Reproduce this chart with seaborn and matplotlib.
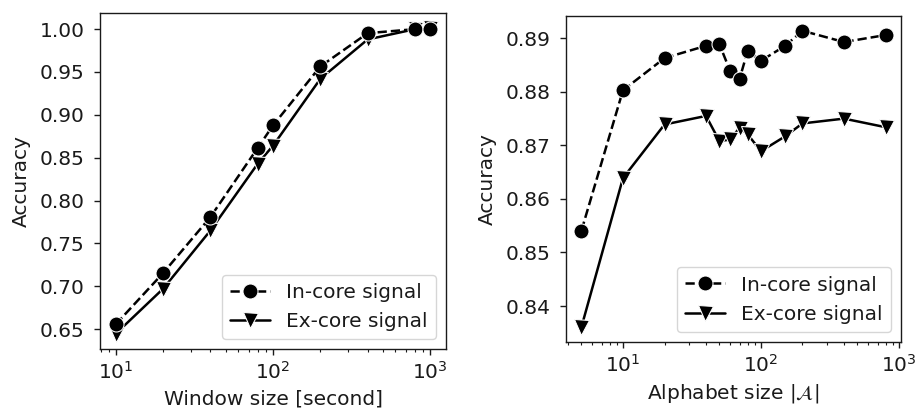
import matplotlib
matplotlib.use("Agg")
import matplotlib.pyplot as plt
import seaborn as sns
import pandas as pd

# Accuracy versus window length
window_sizes = [10, 20, 40, 80, 100, 200, 400, 800, 1000]
window_in_core = [0.6555, 0.7153, 0.7807, 0.8615, 0.8876, 0.9565, 0.9953, 1.0000, 1.0000]
window_ex_core = [0.6445, 0.6970, 0.7650, 0.8430, 0.8640, 0.9420, 0.9880, 1.0000, 1.0010]

# Accuracy versus alphabet size
alphabet_sizes = [5, 10, 20, 40, 50, 60, 70, 80, 100, 150, 200, 400, 800]
alphabet_in_core = [0.8541, 0.8803, 0.8863, 0.8886, 0.8889, 0.8838, 0.8824,
                    0.8876, 0.8858, 0.8886, 0.8914, 0.8893, 0.8906]
alphabet_ex_core = [0.8361, 0.8639, 0.8739, 0.8755, 0.8708, 0.8711, 0.8733,
                    0.8721, 0.8689, 0.8717, 0.8741, 0.8750, 0.8734]

series_labels = ["In-core signal", "Ex-core signal"]
y_ticks_window = [0.65, 0.70, 0.75, 0.80, 0.85, 0.90, 0.95, 1.00]
y_ticks_alphabet = [0.84, 0.85, 0.86, 0.87, 0.88, 0.89]

sns.set_style("ticks")
plt.rcParams["font.family"] = ["DejaVu Sans"]
fs = 14.5
plt.rcParams.update({
    "font.size": fs,
    "axes.labelsize": fs,
    "xtick.labelsize": fs,
    "ytick.labelsize": fs,
    "legend.fontsize": fs,
    "text.color": "#1a1a1a",
    "axes.labelcolor": "#1a1a1a",
    "xtick.color": "#1a1a1a",
    "ytick.color": "#1a1a1a",
    "xtick.major.size": 4.3,
    "ytick.major.size": 4.5,
    "xtick.minor.size": 2.4,
    "xtick.major.width": 1.0,
    "ytick.major.width": 1.0,
    "xtick.minor.width": 0.8,
    "xtick.major.pad": 4.5,
    "ytick.major.pad": 6.5,
    "axes.labelpad": 6.5,
})

fig = plt.figure(figsize=(9.16, 4.12), dpi=100)
ax1 = fig.add_axes([0.1092, 0.1529, 0.3777, 0.8155])
ax2 = fig.add_axes([0.6182, 0.1706, 0.3651, 0.7906])


def draw_panel(ax, xs, in_core, ex_core, xlabel, yticks, fmt):
    df_in = pd.DataFrame({"x": xs, "acc": in_core})
    df_ex = pd.DataFrame({"x": xs, "acc": ex_core})
    sns.lineplot(data=df_in, x="x", y="acc", ax=ax, color="black",
                 linestyle="--", marker="o", markersize=10.8, linewidth=1.8,
                 label=series_labels[0], zorder=3)
    sns.lineplot(data=df_ex, x="x", y="acc", ax=ax, color="black",
                 linestyle="-", marker="v", markersize=10.8, linewidth=1.8,
                 label=series_labels[1], zorder=2)
    ax.set_xscale("log")
    ax.set_xlabel(xlabel, labelpad=4.5)
    ax.set_ylabel("Accuracy")
    ax.set_yticks(yticks)
    ax.set_yticklabels([fmt.format(v) for v in yticks])
    ax.legend(loc="lower right", frameon=True)
    for s in ax.spines.values():
        s.set_color("#1a1a1a")
        s.set_linewidth(1.0)


draw_panel(ax1, window_sizes, window_in_core, window_ex_core,
           "Window size [second]", y_ticks_window, "{:.2f}")
draw_panel(ax2, alphabet_sizes, alphabet_in_core, alphabet_ex_core,
           r"Alphabet size $|\mathcal{A}|$", y_ticks_alphabet, "{:.2f}")

fig.savefig("out.png", dpi=100)
